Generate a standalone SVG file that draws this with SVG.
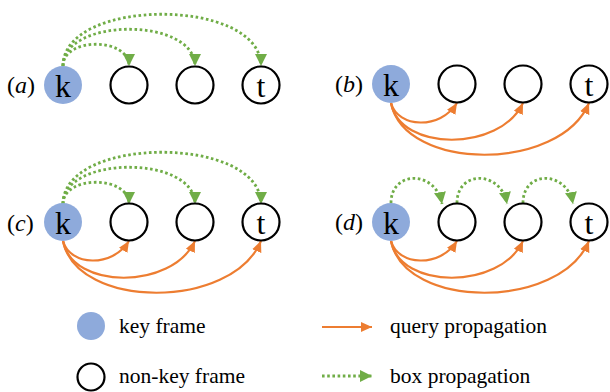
<svg xmlns="http://www.w3.org/2000/svg" width="610" height="392" viewBox="0 0 610 392">
<style>
.key{fill:#8eaadb}
.nk{fill:#fff;stroke:#000;stroke-width:2.2}
.lt{font-family:"Liberation Serif",serif;font-size:32px;text-anchor:middle;fill:#000}
.lab{font-family:"Liberation Serif",serif;font-size:24px;fill:#000}
.leg{font-family:"Liberation Serif",serif;font-size:21.5px;fill:#000}
.box{fill:none;stroke:#70ad47;stroke-width:2.8;stroke-dasharray:2.6 2.6;marker-end:url(#ga)}
.qry{fill:none;stroke:#ed7d31;stroke-width:2.2;marker-end:url(#oa)}
</style>
<defs>
<marker id="ga" markerUnits="userSpaceOnUse" markerWidth="12" markerHeight="12" viewBox="0 0 10 10" refX="10" refY="5" orient="auto">
<path d="M0,0 L10,5 L0,10 Z" fill="#70ad47"/>
</marker>
<marker id="oa" markerUnits="userSpaceOnUse" markerWidth="11" markerHeight="11" viewBox="0 0 10 10" refX="10" refY="5" orient="auto">
<path d="M0,0.5 L10,5 L0,9.5 Z" fill="#ed7d31"/>
</marker>
</defs>

<g id="connectors">
<!-- (a) -->
<path class="box" d="M63,66 C63,37 129,37 129,66"/>
<path class="box" d="M63,66 C63,17 195,17 195,66"/>
<path class="box" d="M63,66 C63,-3 261,-3 261,66"/>
<!-- (b) -->
<path class="qry" d="M391,103 C398,128 440,130 457,103"/>
<path class="qry" d="M391,103 C400,152 500,152 523,103"/>
<path class="qry" d="M391,103 C405,172 560,172 589,103"/>
<!-- (c) -->
<path class="box" d="M63,204 C63,175 129,175 129,204"/>
<path class="box" d="M63,204 C63,155 195,155 195,204"/>
<path class="box" d="M63,204 C63,135 261,135 261,204"/>
<path class="qry" d="M63,241 C70,266 112,268 129,241"/>
<path class="qry" d="M63,241 C72,290 172,290 195,241"/>
<path class="qry" d="M63,241 C77,310 232,310 261,241"/>
<!-- (d) -->
<path class="box" d="M391,203 C391,170 436,170 442,204"/>
<path class="box" d="M457,203 C457,170 501,170 507,204"/>
<path class="box" d="M523,203 C523,170 567,170 573,204"/>
<path class="qry" d="M391,241 C398,266 440,268 457,241"/>
<path class="qry" d="M391,241 C400,290 500,290 523,241"/>
<path class="qry" d="M391,241 C405,310 560,310 589,241"/>
<!-- legend -->
<line x1="322" y1="327" x2="372" y2="327" class="qry"/>
<line x1="322" y1="376" x2="372" y2="376" class="box"/>
</g>

<text class="lab" x="7" y="93">(<tspan font-style="italic">a</tspan>)</text>
<text class="lab" x="335" y="92">(<tspan font-style="italic">b</tspan>)</text>
<text class="lab" x="7" y="231">(<tspan font-style="italic">c</tspan>)</text>
<text class="lab" x="335" y="230">(<tspan font-style="italic">d</tspan>)</text>

<g id="a-k"><circle class="key" cx="63" cy="85" r="19"/><text class="lt" x="63" y="97">k</text></g>
<g id="a-1"><circle class="nk" cx="129" cy="85" r="18.5"/></g>
<g id="a-2"><circle class="nk" cx="195" cy="85" r="18.5"/></g>
<g id="a-t"><circle class="nk" cx="261" cy="85" r="18.5"/><text class="lt" x="261" y="97">t</text></g>

<g id="b-k"><circle class="key" cx="391" cy="84" r="19"/><text class="lt" x="391" y="96">k</text></g>
<g id="b-1"><circle class="nk" cx="457" cy="84" r="18.5"/></g>
<g id="b-2"><circle class="nk" cx="523" cy="84" r="18.5"/></g>
<g id="b-t"><circle class="nk" cx="589" cy="84" r="18.5"/><text class="lt" x="589" y="96">t</text></g>

<g id="c-k"><circle class="key" cx="63" cy="222" r="19"/><text class="lt" x="63" y="234">k</text></g>
<g id="c-1"><circle class="nk" cx="129" cy="222" r="18.5"/></g>
<g id="c-2"><circle class="nk" cx="195" cy="222" r="18.5"/></g>
<g id="c-t"><circle class="nk" cx="261" cy="222" r="18.5"/><text class="lt" x="261" y="234">t</text></g>

<g id="d-k"><circle class="key" cx="391" cy="222" r="19"/><text class="lt" x="391" y="234">k</text></g>
<g id="d-1"><circle class="nk" cx="457" cy="222" r="18.5"/></g>
<g id="d-2"><circle class="nk" cx="523" cy="222" r="18.5"/></g>
<g id="d-t"><circle class="nk" cx="589" cy="222" r="18.5"/><text class="lt" x="589" y="234">t</text></g>

<g id="legend-key"><circle class="key" cx="91" cy="326" r="14"/><text class="leg" x="119" y="333">key frame</text></g>
<g id="legend-nonkey"><circle class="nk" cx="91" cy="377" r="13.5"/><text class="leg" x="119" y="383">non-key frame</text></g>
<g id="legend-query"><text class="leg" x="390" y="333">query propagation</text></g>
<g id="legend-box"><text class="leg" x="390" y="383">box propagation</text></g>
</svg>
